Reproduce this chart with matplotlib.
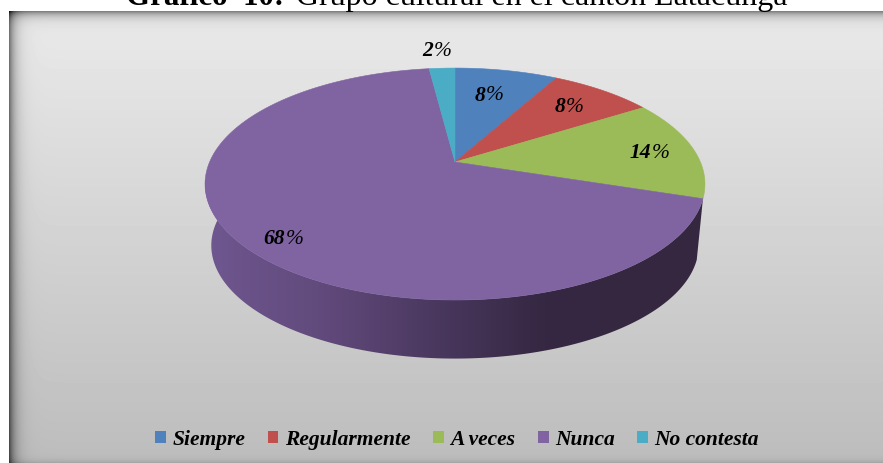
import numpy as np
import matplotlib
matplotlib.use('Agg')
import matplotlib.pyplot as plt
from matplotlib.patches import Polygon, Patch
from matplotlib.colors import LinearSegmentedColormap

plt.rcParams['font.family'] = 'Liberation Serif'

# Data
categories = ['Siempre', 'Regularmente', 'A veces', 'Nunca', 'No contesta']
values = [8, 8, 14, 68, 2]
colors = ['#4f81bd', '#c0504d', '#9bbb59', '#8064a2', '#4bacc6']

W, H = 883, 463
fig = plt.figure(figsize=(W / 100, H / 100), dpi=100)
ax = fig.add_axes([0, 0, 1, 1])
ax.set_xlim(0, W)
ax.set_ylim(H, 0)
ax.axis('off')


# Tilted pie: circle point -> screen pixel with a bit of perspective
def project(frac, scale=1.0, cx=455, cy=162):
    t = 2 * np.pi * np.asarray(frac)
    x, y = np.sin(t), np.cos(t)
    k = 0.19
    return cx + scale * 245.4 * x / (1 + k * y), cy - scale * 111.8 * y / (1 + k * y)


# Background panel with inner shadow
x0, y0 = 9, 11
ys, xs = np.mgrid[y0:H, x0:W]
bg = 234 - 46 * (ys - y0) / (H - y0)
bg = bg - 105 * np.exp(-(ys - y0) / 5.0)
bg = bg - 115 * np.exp(-(xs - x0) / 6.0)
bg = bg - 22 * np.exp(-(H - 1 - ys) / 3.0)
ax.imshow(bg, extent=(x0, W, H, y0), cmap='gray', vmin=0, vmax=255,
          aspect='auto', interpolation='bilinear', zorder=0)
ax.set_xlim(0, W)
ax.set_ylim(H, 0)

# Side wall of the big slice
cum = np.cumsum([0] + values) / sum(values)
arc = np.linspace(cum[3], 0.78, 200)
tx, ty = project(arc)
bx, by = project(arc, scale=0.975, cy=224)
wall_pts = np.column_stack([np.r_[tx, bx[::-1]], np.r_[ty, by[::-1]]])
wall = Polygon(wall_pts, closed=True, facecolor='none', edgecolor='none')
ax.add_patch(wall)
wall_cmap = LinearSegmentedColormap.from_list(
    'wall', [(0, '#6f5790'), (0.25, '#60497a'), (0.5, '#46355a'),
             (0.68, '#352842'), (1, '#35273f')])
im = ax.imshow(np.linspace(0, 1, 256)[None, :], extent=(205, 704, 365, 180),
               cmap=wall_cmap, aspect='auto', zorder=1)
im.set_clip_path(wall)
ax.set_xlim(0, W)
ax.set_ylim(H, 0)

# Top face
for i, (val, col) in enumerate(zip(values, colors)):
    fr = np.linspace(cum[i], cum[i + 1], max(int(val * 6), 8))
    px, py = project(fr)
    pts = np.column_stack([np.r_[455, px], np.r_[162, py]])
    ax.add_patch(Polygon(pts, closed=True, facecolor=col, edgecolor=col,
                         linewidth=0.4, zorder=2))

# Percent labels: bold italic digits, thin percent sign
label_x = [485, 565, 651, 285, 433]
label_y = [96, 107, 153, 239, 51]
for val, lx, ly in zip(values, label_x, label_y):
    ax.text(lx, ly, str(val), ha='right', va='center', fontsize=15.5,
            fontweight='bold', fontstyle='italic', color='black', zorder=3)
    ax.text(lx + 1, ly, '%', ha='left', va='center', fontsize=15.5,
            fontstyle='italic', color='black', zorder=3)

# Title, cut off by the top of the image
ax.text(284, 5, 'Gráfico  10:', ha='right', va='baseline', fontsize=22.3,
        fontweight='bold', color='black', clip_on=False)
ax.text(296, 5, 'Grupo cultural en el cantón Latacunga', ha='left', va='baseline',
        fontsize=23, color='black', clip_on=False)

# Legend
handles = [Patch(facecolor=c, edgecolor='none', label=n) for c, n in zip(colors, categories)]
ax.legend(handles=handles, loc='center', bbox_to_anchor=(457 / W, 1 - 440 / H),
          bbox_transform=ax.transAxes, ncol=5, frameon=False, handlelength=0.5,
          handleheight=0.5, handletextpad=0.3, columnspacing=1.05,
          prop={'family': 'Liberation Serif', 'style': 'italic', 'weight': 'bold', 'size': 15.5})

fig.savefig('out.png', dpi=100, facecolor='white')
